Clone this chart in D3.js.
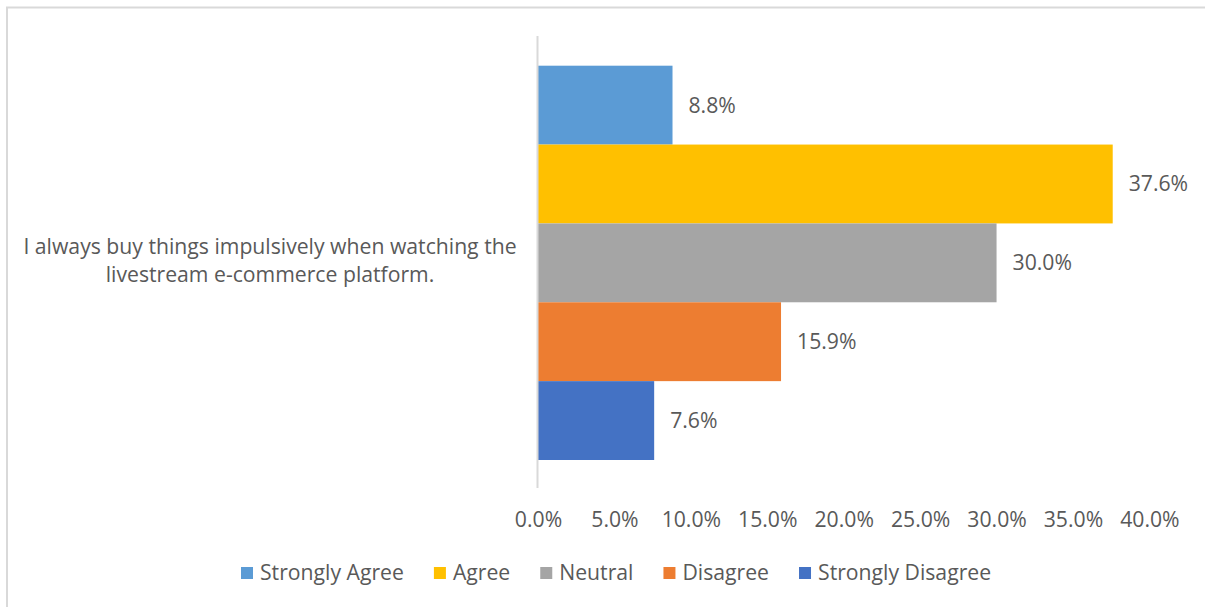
<!DOCTYPE html>
<html>
<head>
<meta charset="utf-8">
<script src="https://cdn.jsdelivr.net/npm/d3@7/dist/d3.min.js"></script>
<style>
  html, body { margin: 0; padding: 0; background: #ffffff; }
  svg { display: block; }
  text { font-family: "Open Sans", "Liberation Sans", sans-serif; fill: #595959; }
</style>
</head>
<body>
<svg id="chart" width="1205" height="607"></svg>
<script>
// Survey statement and response shares
const question = ["I always buy things impulsively when watching the", "livestream e-commerce platform."];
const responses = ["Strongly Agree", "Agree", "Neutral", "Disagree", "Strongly Disagree"];
const shares = [0.088, 0.376, 0.300, 0.159, 0.076];
const colors = ["#5b9bd5", "#ffc000", "#a5a5a5", "#ed7d31", "#4472c4"];
const tickValues = [0, 0.05, 0.10, 0.15, 0.20, 0.25, 0.30, 0.35, 0.40];

const svg = d3.select("#chart");
const fontSize = 21.2;

// Chart frame (left and top border)
svg.append("path")
  .attr("d", "M7,607 V7.5 H1205")
  .attr("fill", "none")
  .attr("stroke", "#d9d9d9")
  .attr("stroke-width", 2);

const plotTop = 36, plotBottom = 488;
const x = d3.scaleLinear().domain([0, 0.40]).range([538, 1149.4]);

// Bars sit in the middle of the band with Excel-style gap
const barsTop = 65.7, barsBottom = 460;
const y = d3.scaleBand().domain(responses).range([barsTop, barsBottom]).padding(0);

svg.append("g").selectAll("rect")
  .data(responses)
  .join("rect")
  .attr("x", x(0))
  .attr("y", d => y(d))
  .attr("width", (d, i) => x(shares[i]) - x(0))
  .attr("height", y.bandwidth())
  .attr("fill", (d, i) => colors[i]);

// Vertical category axis line
svg.append("line")
  .attr("x1", x(0) - 0.5).attr("x2", x(0) - 0.5)
  .attr("y1", plotTop).attr("y2", plotBottom)
  .attr("stroke", "#d9d9d9").attr("stroke-width", 2);

// Value labels
svg.append("g").selectAll("text")
  .data(responses)
  .join("text")
  .attr("x", (d, i) => x(shares[i]) + 16)
  .attr("y", d => y(d) + y.bandwidth() / 2)
  .attr("dy", "0.35em")
  .attr("font-size", fontSize)
  .text((d, i) => d3.format(".1%")(shares[i]));

// Value axis (labels only)
const axis = d3.axisBottom(x).tickValues(tickValues).tickFormat(d3.format(".1%")).tickSize(0).tickPadding(0);
const axisG = svg.append("g").attr("transform", "translate(0,520)").call(axis);
axisG.select(".domain").remove();
axisG.selectAll("text")
  .attr("font-size", fontSize)
  .attr("font-family", null)
  .attr("fill", "#595959")
  .attr("dy", "0.35em")
  .attr("y", 0);

// Category label
svg.append("text")
  .attr("x", 270)
  .attr("y", 247)
  .attr("text-anchor", "middle")
  .attr("font-size", fontSize)
  .selectAll("tspan")
  .data(question)
  .join("tspan")
  .attr("x", 270)
  .attr("y", (d, i) => 247 + i * 28)
  .attr("dy", "0.35em")
  .text(d => d);

// Legend
const legend = svg.append("g");
let lx = 241;
responses.forEach((r, i) => {
  legend.append("rect")
    .attr("x", lx).attr("y", 567)
    .attr("width", 12).attr("height", 12)
    .attr("fill", colors[i]);
  const t = legend.append("text")
    .attr("x", lx + 19).attr("y", 573)
    .attr("dy", "0.35em")
    .attr("font-size", fontSize)
    .text(r);
  lx += 19 + t.node().getComputedTextLength() + 30;
});
</script>
</body>
</html>
